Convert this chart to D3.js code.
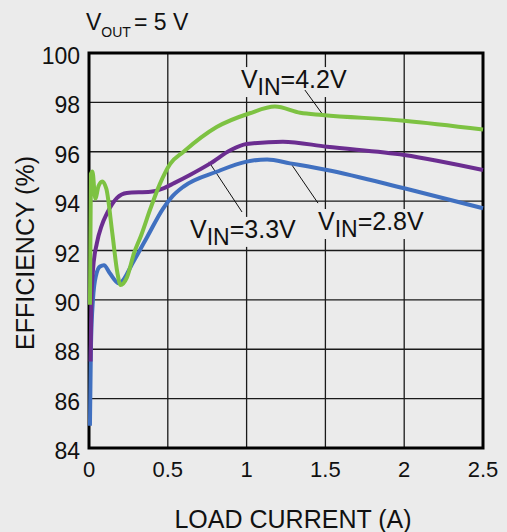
<!DOCTYPE html>
<html>
<head>
<meta charset="utf-8">
<script src="https://cdn.jsdelivr.net/npm/d3@7"></script>
<style>
  body { margin: 0; background: #ebebeb; }
  svg { display: block; font-family: "Liberation Sans", Arial, sans-serif; }
</style>
</head>
<body>
<div id="chart"></div>
<script>
// chart values
let xTicks = [0, 0.5, 1, 1.5, 2, 2.5]
let xTickLabels = ["0", "0.5", "1", "1.5", "2", "2.5"]
let yTicks = [84, 86, 88, 90, 92, 94, 96, 98, 100]

// [load current (A), efficiency (%)]
let vin42 = [[0.006, 89.8], [0.012, 95.1], [0.022, 95.2], [0.04, 94.1], [0.06, 94.6],
  [0.084, 94.8], [0.11, 94.5], [0.148, 92.7], [0.18, 91.1], [0.2, 90.6], [0.24, 90.9],
  [0.286, 91.9], [0.33, 92.6], [0.39, 93.7], [0.45, 94.7], [0.514, 95.5], [0.6, 96.0],
  [0.81, 97.0], [1.02, 97.56], [1.18, 97.83], [1.34, 97.58], [1.48, 97.49], [2.0, 97.26],
  [2.5, 96.9]]
let vin33 = [[0.01, 87.5], [0.015, 90.0], [0.025, 91.2], [0.05, 92.3], [0.08, 93.0],
  [0.114, 93.5], [0.178, 94.13], [0.24, 94.33], [0.39, 94.38], [0.476, 94.53],
  [0.54, 94.73], [0.64, 95.06], [0.77, 95.53], [0.9, 96.07], [1.0, 96.31], [1.23, 96.41],
  [1.51, 96.2], [2.0, 95.87], [2.5, 95.26]]
let vin28 = [[0.006, 84.9], [0.012, 88.0], [0.025, 90.0], [0.045, 91.0], [0.07, 91.35],
  [0.095, 91.4], [0.13, 91.1], [0.19, 90.67], [0.286, 91.6], [0.37, 92.56], [0.47, 93.7],
  [0.53, 94.2], [0.6, 94.59], [0.81, 95.19], [1.0, 95.6], [1.13, 95.69], [1.275, 95.53],
  [1.51, 95.26], [2.0, 94.52], [2.5, 93.71]]

let seriesNames = ["4.2V", "3.3V", "2.8V"]
let seriesColors = ["#7dc242", "#6b2d90", "#4070c0"]

// label anchor [x, y] and leader line [from, to], in data units
let labelPos = [[0.964, 98.58], [0.641, 92.51], [1.453, 92.83]]
let leaders = [
  [[1.37, 98.5], [1.485, 97.49]],
  [[0.971, 93.56], [0.761, 95.59]],
  [[1.453, 93.92], [1.288, 95.46]]
]

let W = 507, H = 532
let m = {left: 89, right: 483, top: 53, bottom: 448}

let svg = d3.select("#chart").append("svg")
  .attr("width", W)
  .attr("height", H)

svg.append("rect")
  .attr("width", W).attr("height", H)
  .attr("fill", "#ebebeb")

let x = d3.scaleLinear().domain([0, 2.5]).range([m.left, m.right])
let y = d3.scaleLinear().domain([84, 100]).range([m.bottom, m.top])

// grid
let grid = svg.append("g")
grid.selectAll(".vg")
  .data(xTicks.slice(1, -1))
  .enter().append("line")
  .attr("x1", d => x(d)).attr("x2", d => x(d))
  .attr("y1", m.top).attr("y2", m.bottom)
  .attr("stroke", "#1a1a1a").attr("stroke-width", 1.3)
grid.selectAll(".hg")
  .data(yTicks.slice(1, -1))
  .enter().append("line")
  .attr("x1", m.left).attr("x2", m.right)
  .attr("y1", d => y(d)).attr("y2", d => y(d))
  .attr("stroke", "#1a1a1a").attr("stroke-width", 1.3)

// tick labels
svg.append("g").selectAll("text")
  .data(yTicks)
  .enter().append("text")
  .attr("x", 80)
  .attr("y", d => y(d) + 11)
  .attr("text-anchor", "end")
  .attr("font-size", 23)
  .attr("fill", "#111")
  .text(d => d)

svg.append("g").selectAll("text")
  .data(xTicks)
  .enter().append("text")
  .attr("x", d => x(d))
  .attr("y", 477)
  .attr("text-anchor", "middle")
  .attr("font-size", 22)
  .attr("fill", "#111")
  .text((d, i) => xTickLabels[i])

// axis titles
svg.append("text")
  .attr("x", 293).attr("y", 528)
  .attr("text-anchor", "middle")
  .attr("font-size", 25)
  .attr("fill", "#111")
  .text("LOAD CURRENT (A)")

svg.append("text")
  .attr("transform", "translate(34,253) rotate(-90)")
  .attr("text-anchor", "middle")
  .attr("font-size", 25)
  .attr("fill", "#111")
  .text("EFFICIENCY (%)")

// top note
let note = svg.append("text")
  .attr("x", 86).attr("y", 30)
  .attr("font-size", 23)
  .attr("fill", "#111")
note.append("tspan").text("V")
note.append("tspan").attr("font-size", 14).attr("dy", 7).text("OUT")
note.append("tspan").attr("dy", -7).attr("dx", 3).text("= 5 V")

// labels with background boxes
let labels = svg.append("g")
seriesNames.forEach(function(name, i) {
  let g = labels.append("g")
  let lx = x(labelPos[i][0]), ly = y(labelPos[i][1])
  let t = g.append("text")
    .attr("x", lx)
    .attr("y", ly)
    .attr("font-size", 25)
    .attr("fill", "#111")
  t.append("tspan").text("V")
  t.append("tspan").attr("font-size", 23).attr("dy", 7).text("IN")
  t.append("tspan").attr("dy", -7).text("=" + name)
  let b = t.node().getBBox()
  g.insert("rect", "text")
    .attr("x", b.x - 3).attr("y", ly - 21)
    .attr("width", b.width + 6).attr("height", 30)
    .attr("fill", "#ebebeb")
})

// leader lines
svg.append("g").selectAll("line")
  .data(leaders)
  .enter().append("line")
  .attr("x1", d => x(d[0][0])).attr("y1", d => y(d[0][1]))
  .attr("x2", d => x(d[1][0])).attr("y2", d => y(d[1][1]))
  .attr("stroke", "#111").attr("stroke-width", 1)

// frame
svg.append("rect")
  .attr("x", m.left).attr("y", m.top)
  .attr("width", m.right - m.left).attr("height", m.bottom - m.top)
  .attr("fill", "none")
  .attr("stroke", "#000")
  .attr("stroke-width", 3)

// curves
let line = d3.line()
  .x(d => x(d[0]))
  .y(d => y(d[1]))
  .curve(d3.curveMonotoneX)

svg.append("g").selectAll("path")
  .data([vin28, vin33, vin42])
  .enter().append("path")
  .attr("d", line)
  .attr("fill", "none")
  .attr("stroke", (d, i) => seriesColors[2 - i])
  .attr("stroke-width", 4)
  .attr("stroke-linejoin", "round")
</script>
</body>
</html>
